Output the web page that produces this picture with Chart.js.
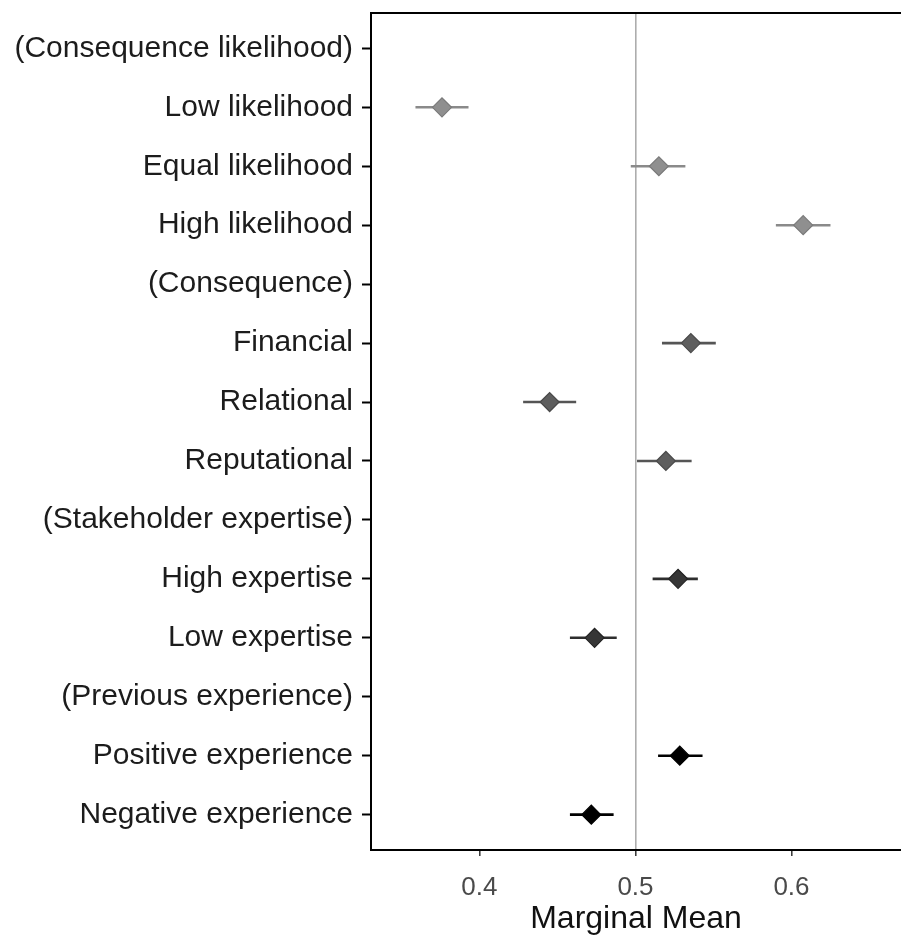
<!DOCTYPE html>
<html>
<head>
<meta charset="utf-8">
<script src="https://cdn.jsdelivr.net/npm/chart.js@4/dist/chart.umd.min.js"></script>
<style>
  html, body { margin: 0; padding: 0; background: #fff; overflow: hidden; }
  canvas { display: block; }
</style>
</head>
<body>
<canvas id="chart" width="901" height="939"></canvas>
<script>
// attribute levels, top to bottom
const labels = [
    '(Consequence likelihood)', 'Low likelihood', 'Equal likelihood', 'High likelihood',
    '(Consequence)', 'Financial', 'Relational', 'Reputational',
    '(Stakeholder expertise)', 'High expertise', 'Low expertise',
    '(Previous experience)', 'Positive experience', 'Negative experience'
];
// marginal means and 95% CI (null = group header row)
const means = [null, 0.376, 0.515, 0.6075, null, 0.5355, 0.445, 0.5195, null, 0.5273, 0.4738, null, 0.5284, 0.4717];
const lower = [null, 0.359, 0.497, 0.590, null, 0.517, 0.428, 0.501, null, 0.511, 0.458, null, 0.5145, 0.458];
const upper = [null, 0.393, 0.532, 0.625, null, 0.5515, 0.462, 0.536, null, 0.540, 0.488, null, 0.543, 0.486];
const group = [0, 0, 0, 0, 1, 1, 1, 1, 2, 2, 2, 3, 3, 3];
const xTicks = [0.4, 0.5, 0.6];

const groupFill = ['#8f8f8f', '#5e5e5e', '#363636', '#000000'];
const groupLine = ['#8a8a8a', '#555555', '#2e2e2e', '#000000'];
const groupEdge = ['#7a7a7a', '#4a4a4a', '#222222', '#000000'];

const xMin = 0.3305, xMax = 0.6702;

const datasets = [];

// point markers, one dataset per group
for (let g = 0; g < 4; g++) {
    const pts = [];
    means.forEach((m, i) => {
        if (m !== null && group[i] === g) pts.push({ x: m, y: i });
    });
    datasets.push({
        type: 'scatter',
        data: pts,
        pointStyle: 'rectRot',
        pointRadius: 9.5,
        pointBackgroundColor: groupFill[g],
        pointBorderColor: groupEdge[g],
        pointBorderWidth: 1.2,
        order: 0
    });
}

// confidence interval bars, one dataset per row
means.forEach((m, i) => {
    if (m === null) return;
    datasets.push({
        type: 'line',
        data: [{ x: lower[i], y: i }, { x: upper[i], y: i }],
        borderColor: groupLine[group[i]],
        borderWidth: 2.6,
        pointRadius: 0,
        fill: false,
        order: 1
    });
});

new Chart(document.getElementById('chart'), {
    type: 'scatter',
    data: { datasets },
    options: {
        responsive: false,
        animation: false,
        layout: { autoPadding: false, padding: { left: 0, right: 0, top: 13, bottom: 0 } },
        plugins: { legend: { display: false }, tooltip: { enabled: false } },
        scales: {
            x: {
                type: 'linear',
                position: 'bottom',
                min: xMin,
                max: xMax,
                afterBuildTicks: s => { s.ticks = xTicks.map(v => ({ value: v })); },
                afterFit: s => { s.height = 89; s.paddingLeft = 0; s.paddingRight = 0; },
                ticks: {
                    padding: 16,
                    color: '#4a4a4a',
                    font: { family: 'Liberation Sans', size: 26 },
                    callback: v => v.toFixed(1)
                },
                grid: {
                    drawOnChartArea: true,
                    drawTicks: true,
                    tickLength: 6,
                    tickColor: '#333',
                    tickWidth: 1.5,
                    lineWidth: 1.6,
                    color: c => (c.tick && c.tick.value === 0.5) ? '#adadad' : 'rgba(0,0,0,0)'
                },
                border: { display: true, color: '#000', width: 2 },
                title: {
                    display: true,
                    text: 'Marginal Mean',
                    color: '#111',
                    font: { family: 'Liberation Sans', size: 32 },
                    padding: { top: 0, bottom: 1 }
                }
            },
            xTop: {
                type: 'linear',
                position: 'top',
                min: xMin,
                max: xMax,
                afterFit: s => { s.height = 0; s.paddingLeft = 0; s.paddingRight = 0; },
                ticks: { display: false },
                grid: { display: false, drawTicks: false },
                border: { display: true, color: '#000', width: 2 }
            },
            y: {
                type: 'linear',
                reverse: true,
                min: -0.6,
                max: 13.6,
                afterBuildTicks: s => { s.ticks = labels.map((_, i) => ({ value: i })); },
                afterFit: s => { s.width = 371; s.paddingTop = 0; s.paddingBottom = 0; },
                ticks: {
                    autoSkip: false,
                    padding: 9,
                    color: '#1c1c1c',
                    font: { family: 'Liberation Sans', size: 30 },
                    callback: v => labels[v]
                },
                grid: {
                    drawOnChartArea: false,
                    drawTicks: true,
                    tickLength: 9,
                    tickColor: '#000',
                    tickWidth: 2
                },
                border: { display: true, color: '#000', width: 2 }
            }
        }
    }
});
</script>
</body>
</html>
